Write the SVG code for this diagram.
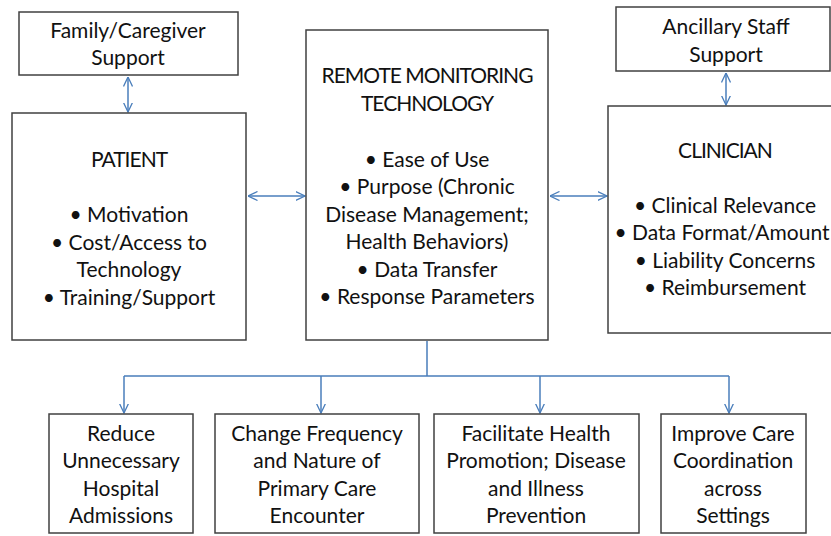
<svg xmlns="http://www.w3.org/2000/svg" width="831" height="536" viewBox="0 0 831 536">
  <style>
    .box { fill: #ffffff; stroke: #404040; stroke-width: 1.5; }
    .lbl { font-family: Lato, "Open Sans", "Liberation Sans", sans-serif; font-size: 21px; fill: #111111; text-anchor: middle; }
    .cap { letter-spacing: -1px; }
    .conn { fill: none; stroke: #4a7ebb; stroke-width: 1.5; }
  </style>
  <defs>
    <marker id="chev" viewBox="0 0 10 10" refX="9.5" refY="5" markerWidth="10" markerHeight="10" markerUnits="userSpaceOnUse" orient="auto-start-reverse">
      <path d="M0,0.5 L9.5,5 L0,9.5" fill="none" stroke="#4a7ebb" stroke-width="1.3"/>
    </marker>
  </defs>
  <rect width="831" height="536" fill="#ffffff"/>

  <g id="connectors">
    <line class="conn" x1="128" y1="77" x2="128" y2="112" marker-start="url(#chev)" marker-end="url(#chev)"/>
    <line class="conn" x1="726" y1="73" x2="726" y2="105" marker-start="url(#chev)" marker-end="url(#chev)"/>
    <line class="conn" x1="248" y1="196" x2="305" y2="196" marker-start="url(#chev)" marker-end="url(#chev)"/>
    <line class="conn" x1="550" y1="196" x2="607" y2="196" marker-start="url(#chev)" marker-end="url(#chev)"/>
    <path class="conn" d="M427,341 V376 M124,376 H729"/>
    <line class="conn" x1="124" y1="376" x2="124" y2="413" marker-end="url(#chev)"/>
    <line class="conn" x1="321" y1="376" x2="321" y2="413" marker-end="url(#chev)"/>
    <line class="conn" x1="540" y1="376" x2="540" y2="413" marker-end="url(#chev)"/>
    <line class="conn" x1="729" y1="376" x2="729" y2="413" marker-end="url(#chev)"/>
  </g>

  <g id="family">
    <rect class="box" x="19" y="12" width="219" height="63"/>
    <text class="lbl" x="128" y="38">Family/Caregiver</text>
    <text class="lbl" x="128" y="65">Support</text>
  </g>

  <g id="patient">
    <rect class="box" x="12" y="113" width="234" height="227"/>
    <text class="lbl cap" x="129" y="167">PATIENT</text>
    <text class="lbl" x="129" y="222">• Motivation</text>
    <text class="lbl" x="129" y="250">• Cost/Access to</text>
    <text class="lbl" x="129" y="277">Technology</text>
    <text class="lbl" x="129" y="305">• Training/Support</text>
  </g>

  <g id="technology">
    <rect class="box" x="306" y="30" width="242" height="310"/>
    <text class="lbl cap" x="427" y="83">REMOTE MONITORING</text>
    <text class="lbl cap" x="427" y="111">TECHNOLOGY</text>
    <text class="lbl" x="427" y="167">• Ease of Use</text>
    <text class="lbl" x="427" y="194">• Purpose (Chronic</text>
    <text class="lbl" x="427" y="222">Disease Management;</text>
    <text class="lbl" x="427" y="249">Health Behaviors)</text>
    <text class="lbl" x="427" y="277">• Data Transfer</text>
    <text class="lbl" x="427" y="304">• Response Parameters</text>
  </g>

  <g id="ancillary">
    <rect class="box" x="616" y="7" width="214" height="64"/>
    <text class="lbl" x="726" y="34">Ancillary Staff</text>
    <text class="lbl" x="726" y="62">Support</text>
  </g>

  <g id="clinician">
    <rect class="box" x="608" y="106" width="230" height="227"/>
    <text class="lbl cap" x="725" y="158">CLINICIAN</text>
    <text class="lbl" x="725" y="213">• Clinical Relevance</text>
    <text class="lbl" x="722" y="240">• Data Format/Amount</text>
    <text class="lbl" x="725" y="268">• Liability Concerns</text>
    <text class="lbl" x="725" y="295">• Reimbursement</text>
  </g>

  <g id="outcome-admissions">
    <rect class="box" x="49" y="414" width="144" height="119"/>
    <text class="lbl" x="121" y="441">Reduce</text>
    <text class="lbl" x="121" y="468">Unnecessary</text>
    <text class="lbl" x="121" y="496">Hospital</text>
    <text class="lbl" x="121" y="523">Admissions</text>
  </g>

  <g id="outcome-encounter">
    <rect class="box" x="215" y="414" width="204" height="119"/>
    <text class="lbl" x="317" y="441">Change Frequency</text>
    <text class="lbl" x="317" y="468">and Nature of</text>
    <text class="lbl" x="317" y="496">Primary Care</text>
    <text class="lbl" x="317" y="523">Encounter</text>
  </g>

  <g id="outcome-prevention">
    <rect class="box" x="434" y="414" width="205" height="119"/>
    <text class="lbl" x="536" y="441">Facilitate Health</text>
    <text class="lbl" x="536" y="468">Promotion; Disease</text>
    <text class="lbl" x="536" y="496">and Illness</text>
    <text class="lbl" x="536" y="523">Prevention</text>
  </g>

  <g id="outcome-coordination">
    <rect class="box" x="661" y="414" width="145" height="119"/>
    <text class="lbl" x="733" y="441">Improve Care</text>
    <text class="lbl" x="733" y="468">Coordination</text>
    <text class="lbl" x="733" y="496">across</text>
    <text class="lbl" x="733" y="523">Settings</text>
  </g>
</svg>
